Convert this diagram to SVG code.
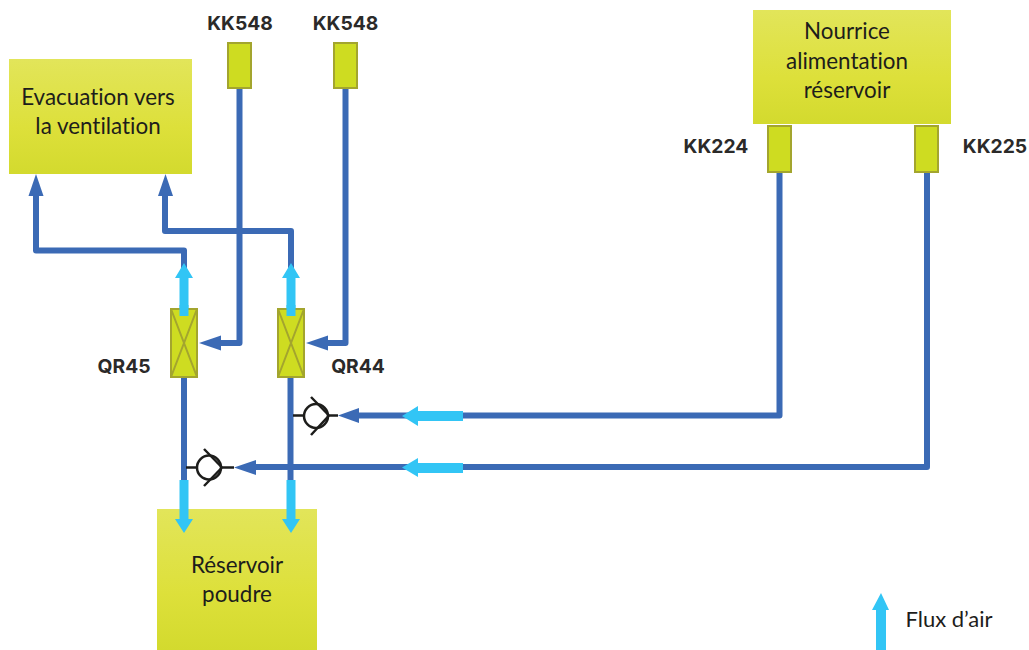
<svg xmlns="http://www.w3.org/2000/svg" width="1029" height="650" viewBox="0 0 1029 650">
<style>
.t{font-family:"Lato","Noto Sans",sans-serif;font-size:22.4px;fill:#1d1d1b;text-anchor:middle;font-variant-ligatures:none}
.l{font-family:"Inter","Noto Sans",sans-serif;font-weight:700;font-size:19.3px;fill:#2b2a29;text-anchor:middle}
.box{fill:url(#g)}
.s{fill:#cedc21;stroke:#a3a52e;stroke-width:2}
.x{stroke:#a3a52e;stroke-width:2;fill:none}
.p{fill:none;stroke:#3b6ab5;stroke-width:6;stroke-linejoin:round}
.h{fill:#3b6ab5}
.a{fill:#32c5f5}
.v{fill:none;stroke:#1d1d1b;stroke-width:2.500}
</style>
<defs><linearGradient id="g" x1="0" y1="0" x2="0" y2="1"><stop offset="0" stop-color="#e2e55a"/><stop offset=".6" stop-color="#dde03a"/><stop offset="1" stop-color="#d3da2e"/></linearGradient></defs>
<g id="evacuation"><rect class="box" x="9" y="59" width="183" height="115"/><text class="t" x="98" y="105">Evacuation vers</text><text class="t" x="98" y="134">la ventilation</text></g>
<g id="nourrice"><rect class="box" x="753" y="10" width="198" height="114"/><text class="t" x="847" y="39">Nourrice</text><text class="t" x="847" y="69">alimentation</text><text class="t" x="847" y="98">réservoir</text></g>
<g id="reservoir"><rect class="box" x="157" y="509" width="160" height="141"/><text class="t" x="237" y="573">Réservoir</text><text class="t" x="237" y="602">poudre</text></g>
<g id="connectors">
<path class="p" d="M239.500 88V343H215"/>
<path class="p" d="M345.500 88V343H322"/>
<path class="p" d="M184 309V250.500H36V195"/>
<path class="p" d="M291 309V231H165V195"/>
<path class="p" d="M184 378V490"/>
<path class="p" d="M290.500 378V490"/>
<path class="p" d="M779.500 172V415.500H355"/>
<path class="p" d="M927 172V467H250"/>
<path class="h" d="M36 174L43.500 196H28.500Z"/>
<path class="h" d="M165.500 174L173 196H158Z"/>
<path class="h" d="M199 343L221 335.500V350.500Z"/>
<path class="h" d="M306 343L328 335.500V350.500Z"/>
<path class="h" d="M338 415.500L359 408V423Z"/>
<path class="h" d="M234 467.500L256 460V475Z"/>
<g id="check-valves">
<circle class="v" cx="316" cy="416" r="12"/><path class="v" d="M293 415.500H304M311 397L329 415.500L311 435M329 415.500H338"/>
<circle class="v" cx="209" cy="467.500" r="12"/><path class="v" d="M186 467.500H197M204 449L222 467.500L204 486M222 467.500H234"/>
</g>
</g>
<g id="air-flows">
<path class="a" d="M179.500 316V278H175L184 263L193 278H188.500V316Z"/>
<path class="a" d="M286.500 316V278H282L291 263L300 278H295.500V316Z"/>
<path class="a" d="M179.500 480H188.500V519H193L184 533L175 519H179.500Z"/>
<path class="a" d="M286.500 480H295.500V519H300L291 533L282 519H286.500Z"/>
<path class="a" d="M463 411V421H418V426L402 416L418 406V411Z"/>
<path class="a" d="M463 463V473H418V477L402 467.500L418 458V463Z"/>
</g>
<g id="kk548a"><rect class="s" x="228" y="43" width="23" height="45"/><text class="l" x="240" y="30">KK548</text></g>
<g id="kk548b"><rect class="s" x="334" y="43" width="23" height="45"/><text class="l" x="345.500" y="30">KK548</text></g>
<g id="kk224"><rect class="s" x="768" y="126" width="23" height="46"/><text class="l" x="716" y="152.500">KK224</text></g>
<g id="kk225"><rect class="s" x="915" y="126" width="23" height="46"/><text class="l" x="995" y="152.500">KK225</text></g>
<g id="qr45"><rect class="s" x="171" y="309" width="26" height="68"/><path class="x" d="M171 309L197 377M197 309L171 377"/><text class="l" x="124" y="373">QR45</text></g>
<g id="qr44"><rect class="s" x="278" y="309" width="26" height="68"/><path class="x" d="M278 309L304 377M304 309L278 377"/><text class="l" x="358" y="373">QR44</text></g>
<path class="a" d="M179.500 316V305H188.500V316Z"/><path class="a" d="M286.500 316V305H295.500V316Z"/>
<path class="a" d="M876 650V610H872L881 593L889 610H886V650Z"/>
<text class="t" x="949" y="627" style="font-size:22px">Flux d’air</text>
</svg>
